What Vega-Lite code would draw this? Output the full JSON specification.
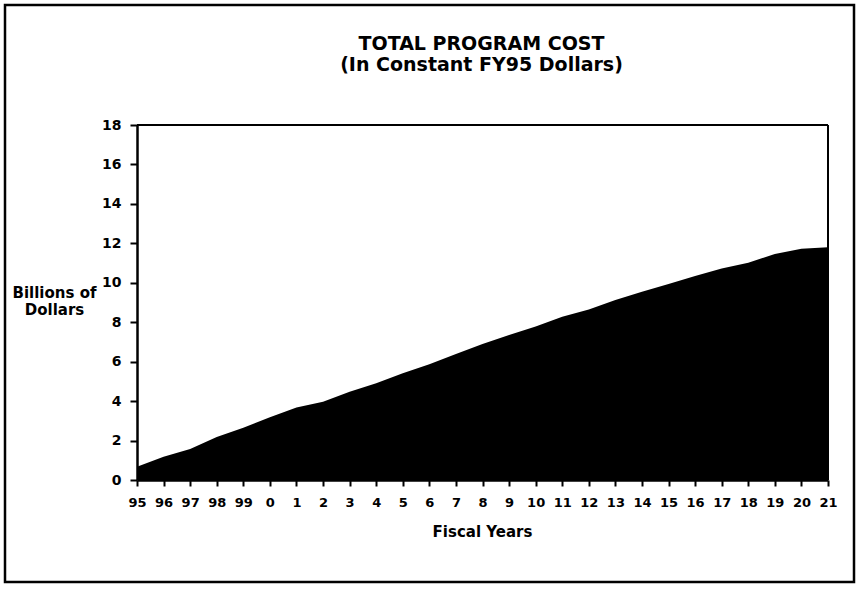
{
  "$schema": "https://vega.github.io/schema/vega-lite/v6.json",
  "width": 849,
  "height": 577,
  "autosize": {"type": "none"},
  "padding": {"left": 5, "top": 5, "right": 3, "bottom": 7},
  "background": "white",
  "config": {
    "view": {"stroke": "black", "strokeWidth": 2.5},
    "font": "DejaVu Sans"
  },
  "title": {
    "text": ["TOTAL PROGRAM COST", "(In Constant FY95 Dollars)"],
    "font": "DejaVu Sans",
    "fontSize": 19,
    "fontWeight": "bold",
    "lineHeight": 21,
    "color": "black",
    "anchor": "middle",
    "frame": "group",
    "baseline": "bottom",
    "dx": 52,
    "offset": -89
  },
  "data": {
    "values": [
      {"fy": "95", "v": 0.67},
      {"fy": "96", "v": 1.18},
      {"fy": "97", "v": 1.57},
      {"fy": "98", "v": 2.18},
      {"fy": "99", "v": 2.65},
      {"fy": "0", "v": 3.18},
      {"fy": "1", "v": 3.67},
      {"fy": "2", "v": 3.97},
      {"fy": "3", "v": 4.48},
      {"fy": "4", "v": 4.9},
      {"fy": "5", "v": 5.41},
      {"fy": "6", "v": 5.87},
      {"fy": "7", "v": 6.39},
      {"fy": "8", "v": 6.9},
      {"fy": "9", "v": 7.35},
      {"fy": "10", "v": 7.78},
      {"fy": "11", "v": 8.28},
      {"fy": "12", "v": 8.65},
      {"fy": "13", "v": 9.13},
      {"fy": "14", "v": 9.55},
      {"fy": "15", "v": 9.94},
      {"fy": "16", "v": 10.34},
      {"fy": "17", "v": 10.73},
      {"fy": "18", "v": 11.02},
      {"fy": "19", "v": 11.46},
      {"fy": "20", "v": 11.73},
      {"fy": "21", "v": 11.8}
    ]
  },
  "layer": [
    {
      "mark": {"type": "area", "color": "black", "opacity": 1},
      "encoding": {
        "x": {
          "field": "fy",
          "type": "ordinal",
          "sort": null,
          "scale": {"type": "point", "padding": 0, "range": [132, 823]},
          "axis": {
            "offset": -102,
            "labelAngle": 0,
            "labelOverlap": false,
            "domainColor": "black",
            "domainWidth": 2.5,
            "tickColor": "black",
            "tickWidth": 2,
            "tickSize": 6,
            "labelFont": "DejaVu Sans",
            "labelFontWeight": "bold",
            "labelFontSize": 13,
            "labelColor": "black",
            "labelPadding": 10,
            "title": "Fiscal Years",
            "titleFont": "DejaVu Sans",
            "titleFontWeight": "bold",
            "titleFontSize": 15,
            "titleColor": "black",
            "titleBaseline": "alphabetic",
            "titleY": 56,
            "titleX": 477
          }
        },
        "y": {
          "field": "v",
          "type": "quantitative",
          "scale": {"domain": [0, 18], "range": [475, 120], "nice": false, "zero": true},
          "axis": {
            "values": [0, 2, 4, 6, 8, 10, 12, 14, 16, 18],
            "offset": -132,
            "grid": false,
            "domainColor": "black",
            "domainWidth": 2.5,
            "tickColor": "black",
            "tickWidth": 2,
            "tickSize": 7,
            "labelFont": "DejaVu Sans",
            "labelFontWeight": "bold",
            "labelFontSize": 14,
            "labelColor": "black",
            "labelPadding": 9,
            "title": ["Billions of", "Dollars"],
            "titleFont": "DejaVu Sans",
            "titleFontWeight": "bold",
            "titleFontSize": 15,
            "titleColor": "black",
            "titleAngle": 0,
            "titleAlign": "center",
            "titleBaseline": "alphabetic",
            "titleLineHeight": 17,
            "titleX": -83,
            "titleY": 292
          }
        }
      }
    },
    {
      "mark": {"type": "rule", "color": "black", "strokeWidth": 2},
      "encoding": {
        "x": {"datum": "95", "type": "ordinal"},
        "x2": {"datum": "21"},
        "y": {"datum": 18, "type": "quantitative"}
      }
    },
    {
      "mark": {"type": "rule", "color": "black", "strokeWidth": 2},
      "encoding": {
        "x": {"datum": "21", "type": "ordinal"},
        "y": {"datum": 0, "type": "quantitative"},
        "y2": {"datum": 18}
      }
    }
  ]
}
